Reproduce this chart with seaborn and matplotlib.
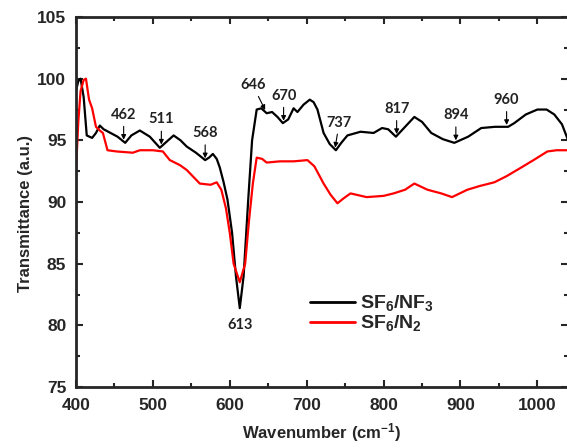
import numpy as np
import matplotlib
matplotlib.use("Agg")
import matplotlib.pyplot as plt
import seaborn as sns

# black curve, SF6/NF3
nf3_wave = [400, 403, 406, 410, 414, 421, 426, 431, 436, 445, 454, 464, 472, 483, 496,
            509, 518, 527, 536, 544, 556, 568, 573, 578, 583, 587, 592, 597, 603, 608,
            613, 618, 624, 629, 635, 641, 648, 655, 662, 669, 676, 683, 688, 696, 704,
            709, 714, 722, 730, 738, 745, 753, 770, 787, 798, 806, 816, 828, 840, 850,
            862, 877, 892, 910, 927, 945, 962, 970, 985, 1000, 1012, 1022, 1032, 1040]
nf3_trans = [99.0, 99.8, 100.0, 98.5, 95.4, 95.2, 95.6, 96.2, 95.9, 95.6, 95.3, 94.8, 95.4, 95.8, 95.3,
             94.4, 94.9, 95.4, 95.0, 94.5, 94.0, 93.4, 93.6, 93.9, 93.5, 92.8, 91.6, 90.2, 87.5, 84.0,
             81.4, 84.0, 90.2, 95.0, 97.5, 97.6, 97.2, 97.3, 96.9, 96.4, 96.7, 97.6, 97.3, 97.9, 98.3,
             98.1, 97.5, 95.6, 94.7, 94.2, 94.8, 95.4, 95.7, 95.6, 96.0, 95.9, 95.3, 96.1, 96.9, 96.5,
             95.6, 95.1, 94.8, 95.3, 96.0, 96.1, 96.1, 96.4, 97.1, 97.5, 97.5, 97.1, 96.3, 95.0]

# red curve, SF6/N2
n2_wave = [400, 403, 406, 410, 413, 417, 421, 426, 431, 435, 441, 453, 474, 483, 500,
           513, 522, 535, 544, 561, 575, 583, 589, 595, 600, 605, 613, 620, 625, 630,
           635, 642, 648, 665, 683, 701, 710, 722, 731, 740, 748, 757, 778, 800, 813,
           828, 840, 857, 875, 889, 909, 925, 944, 960, 979, 995, 1013, 1025, 1040]
n2_trans = [92.5, 96.5, 99.0, 99.9, 100.0, 98.3, 97.6, 96.1, 95.8, 95.6, 94.2, 94.1, 94.0, 94.2, 94.2,
            94.1, 93.4, 93.0, 92.6, 91.5, 91.4, 91.6, 91.0, 89.5, 87.5, 85.0, 83.5, 85.0, 88.5, 91.5,
            93.6, 93.5, 93.2, 93.3, 93.3, 93.4, 92.9, 91.5, 90.6, 89.9, 90.3, 90.7, 90.4, 90.5, 90.7,
            91.0, 91.5, 91.0, 90.7, 90.4, 91.0, 91.3, 91.6, 92.1, 92.8, 93.4, 94.1, 94.2, 94.2]

# marked bands
peak_labels = [462, 511, 568, 646, 670, 737, 817, 894, 960]
peak_text_dx = [0, 0, 0, -9, 0, 3, 0, 0, 0]
min_label = 613

sns.set_style("ticks")
plt.rcParams["font.family"] = ["Liberation Sans", "DejaVu Sans"]
plt.rcParams["font.weight"] = "bold"
plt.rcParams["mathtext.fontset"] = "custom"
plt.rcParams["mathtext.rm"] = "Liberation Sans:bold"
plt.rcParams["mathtext.bf"] = "Liberation Sans:bold"
plt.rcParams["mathtext.it"] = "Liberation Sans:bold"

fig = plt.figure(figsize=(5.67, 4.48), dpi=100)
ax = fig.add_axes([0.134, 0.136, 0.868, 0.826])

sns.lineplot(x=nf3_wave, y=nf3_trans, color="black", lw=1.6, sort=False,
             label=r"SF$_6$/NF$_3$", ax=ax)
sns.lineplot(x=n2_wave, y=n2_trans, color="#ff0000", lw=1.6, sort=False,
             label=r"SF$_6$/N$_2$", ax=ax)

ax.set_xlim(400, 1040)
ax.set_ylim(75, 105)
ax.set_xticks(np.arange(400, 1001, 100))
ax.set_xticks(np.arange(450, 1040, 100), minor=True)
ax.set_yticks(np.arange(75, 106, 5))
ax.set_yticks(np.arange(77.5, 105, 5), minor=True)
ax.tick_params(which="both", direction="in", top=True, right=True, width=1.5,
               labelsize=12.5)
ax.tick_params(which="major", length=5)
ax.tick_params(which="minor", length=3)
ax.tick_params(axis="x", pad=8)
ax.tick_params(axis="y", pad=7)
for lbl in ax.get_xticklabels() + ax.get_yticklabels():
    lbl.set_fontweight("bold")
for s in ax.spines.values():
    s.set_linewidth(2)

ax.set_xlabel(r"Wavenumber (cm$^{-1}$)", fontsize=12, fontweight="bold", labelpad=6)
ax.set_ylabel("Transmittance (a.u.)", fontsize=12, fontweight="bold")
ax.yaxis.set_label_coords(-0.087, 0.47)

ann_font = dict(family=["Lato", "DejaVu Sans"], fontweight="bold", fontsize=10.5, color="#222222")
for lab, dx in zip(peak_labels, peak_text_dx):
    tip = np.interp(lab, nf3_wave, nf3_trans) + 0.15
    ax.annotate(str(lab), xy=(lab, tip), xytext=(dx, 13), textcoords="offset points",
                ha="center", va="bottom",
                arrowprops=dict(arrowstyle="-|>", color="black", lw=0.8,
                                mutation_scale=7, shrinkA=1, shrinkB=0),
                **ann_font)
ax.annotate(str(min_label), xy=(min_label, min(nf3_trans)), xytext=(0, -7),
            textcoords="offset points", ha="center", va="top", **ann_font)

leg = ax.legend(loc="lower left", bbox_to_anchor=(0.44, 0.098), frameon=False,
                fontsize=14, handlelength=2.3, handletextpad=0.25, labelspacing=0.0)
for line in leg.get_lines():
    line.set_linewidth(2)

fig.savefig("out.png", dpi=100)
